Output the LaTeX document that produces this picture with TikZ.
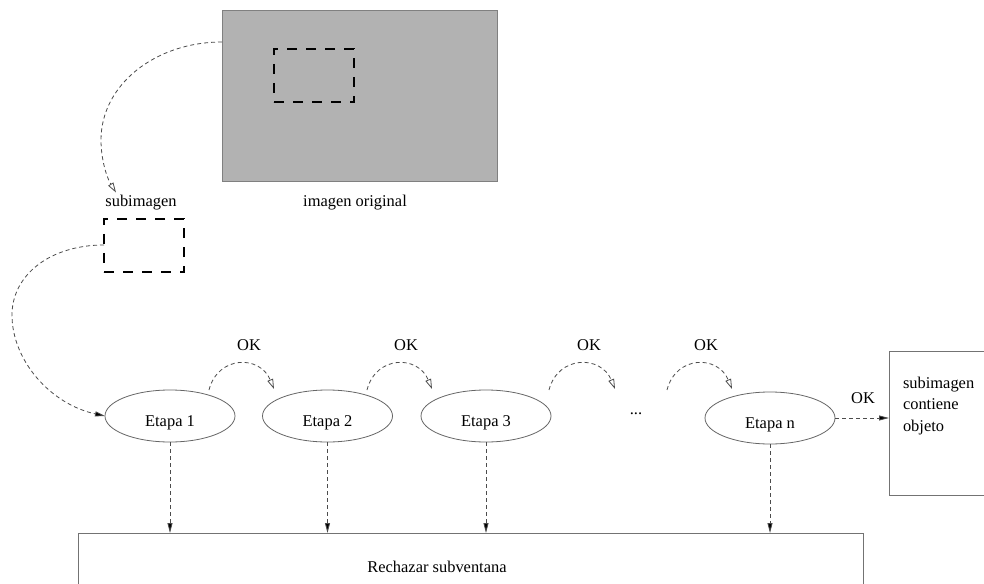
\documentclass[tikz,border=0pt]{standalone}
\usepackage{fontspec}
\setmainfont{Liberation Serif}
\usetikzlibrary{arrows.meta,calc,shapes.geometric}
\begin{document}
\begin{tikzpicture}[x=1bp,y=-1bp,
  every node/.style={font=\fontsize{16.5}{21.5}\selectfont, inner sep=0pt, outer sep=0pt},
  stage/.style={ellipse, draw=black!60, line width=0.8bp, minimum width=130bp, minimum height=52bp},
  conn/.style={draw=black!70, line width=0.8bp, dash pattern=on 4bp off 3bp},
  okarc/.style={conn, -{Triangle[open,length=10bp,width=6bp]}},
  fwd/.style={conn, -{Triangle[length=10bp,width=5bp,fill=black]}},
  win/.style={draw=black, line width=2.5bp, dash pattern=on 10bp off 9bp},
  plainbox/.style={draw=black!55, line width=0.8bp},
]
\clip (0,0) rectangle (984,584);
\fill[white] (0,0) rectangle (984,584);

% original image and windows
\node[draw=black!50, line width=0.8bp, fill=black!30, minimum width=275bp, minimum height=171bp, anchor=north west] (orig) at (222,10) {};
\node[win, minimum width=80bp, minimum height=53bp, anchor=north west] (sel) at (274,49) {};
\node[win, minimum width=80bp, minimum height=53bp, anchor=north west] (sub) at (104,219) {};
\node (sublbl) at (141,203) {subimagen};
\node (origlbl) at (355,203) {imagen original};

% stages
\node[stage, label={[yshift=-7bp]center:Etapa 1}] (e1) at (170,416) {};
\node[stage, label={[yshift=-7bp]center:Etapa 2}] (e2) at (327.5,416) {};
\node[stage, label={[yshift=-7bp]center:Etapa 3}] (e3) at (486,416) {};
\node (dots) at (636,414) {...};
\node[stage, label={[yshift=-7bp]center:Etapa n}] (en) at (770,418) {};

% OK labels
\node (ok1) at (249,345) {OK};
\node (ok2) at (406,345) {OK};
\node (ok3) at (589,345) {OK};
\node (ok4) at (706,345) {OK};
\node (ok5) at (863,398) {OK};

% boxes
\node[plainbox, minimum width=785bp, minimum height=90bp, anchor=north west] (rej) at (78,533) {};
\node (rejtxt) at (437,567) {Rechazar subventana};
\node[plainbox, minimum width=130bp, minimum height=144bp, anchor=north west] (obj) at (889,351) {};
\node[align=left, anchor=north west] (objtxt) at (903,377) {subimagen\\contiene\\objeto};

% coordinates for free ends
\coordinate (a1s) at ($(orig.north west)+(0,32)$);
\coordinate (a1e) at ($(sublbl.north)+(-25,-3)$);
\coordinate (a2s) at ($(sub.north west)+(0,26)$);
\coordinate (k1s) at ($(e1.center)+(39,-26)$);
\coordinate (k1e) at ($(e2.center)+(-53.5,-27)$);
\coordinate (k2s) at ($(e2.center)+(39.5,-26)$);
\coordinate (k2e) at ($(e3.center)+(-54,-27)$);
\coordinate (k3s) at ($(e3.center)+(63,-26)$);
\coordinate (k3e) at ($(dots.center)+(-21,-25)$);
\coordinate (k4s) at ($(dots.center)+(31,-24)$);
\coordinate (k4e) at ($(en.center)+(-38,-29)$);

% connectors
\draw[okarc] (a1s) .. controls (155,42) and (101,85) .. (101,140) .. controls (101,160) and (107,178) .. (a1e);
\draw[fwd] (a2s) .. controls (50,245) and (12,275) .. (12,315) .. controls (12,360) and (50,404) .. (e1.west);

\draw[okarc] (k1s) .. controls ($(k1s)+(9,-35)$) and ($(k1e)+(-14,-34)$) .. (k1e);
\draw[okarc] (k2s) .. controls ($(k2s)+(9,-35)$) and ($(k2e)+(-14,-34)$) .. (k2e);
\draw[okarc] (k3s) .. controls ($(k3s)+(9,-35)$) and ($(k3e)+(-14,-34)$) .. (k3e);
\draw[okarc] (k4s) .. controls ($(k4s)+(9,-35)$) and ($(k4e)+(-14,-34)$) .. (k4e);

\draw[fwd] (e1.south) -- (e1.south |- rej.north);
\draw[fwd] (e2.south) -- (e2.south |- rej.north);
\draw[fwd] (e3.south) -- (e3.south |- rej.north);
\draw[fwd] (en.south) -- (en.south |- rej.north);
\draw[fwd] (en.east) -- (en.east -| obj.west);
\end{tikzpicture}
\end{document}
